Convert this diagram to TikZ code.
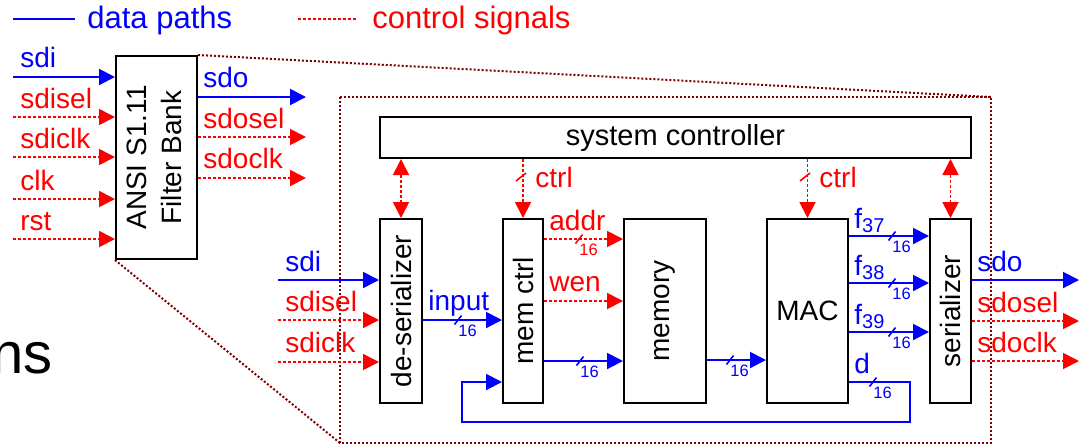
\documentclass[tikz,border=0pt]{standalone}
\usepackage{fontspec}
\setmainfont{Liberation Sans}
\usetikzlibrary{arrows.meta,calc}

\definecolor{dpblue}{RGB}{0,0,255}
\definecolor{csred}{RGB}{255,0,0}
\definecolor{zoomred}{RGB}{128,0,0}

\begin{document}
\begin{tikzpicture}[x=0.5pt,y=-0.5pt,
  block/.style={draw=black, line width=1pt, fill=white, inner sep=0pt,
                font=\fontsize{14}{17.5}\selectfont},
  data/.style={draw=dpblue, line width=1pt, -{Triangle[length=8pt,width=8pt]}},
  datal/.style={draw=dpblue, line width=1pt},
  ctl/.style={draw=csred, line width=0.9pt, dash pattern=on 1.5pt off 1pt,
              -{Triangle[length=8pt,width=8pt]}},
  ctlboth/.style={ctl, {Triangle[length=8pt,width=8pt]}-{Triangle[length=8pt,width=8pt]}},
  ctll/.style={draw=csred, line width=0.9pt, dash pattern=on 1.5pt off 1pt},
  zoomline/.style={draw=zoomred, line width=1pt, dash pattern=on 1pt off 1pt},
  lab/.style={anchor=base west, inner sep=0pt, font=\fontsize{14}{16}\selectfont},
  leg/.style={anchor=base west, inner sep=0pt, font=\fontsize{15.5}{18}\selectfont},
  bus/.pic={
    \draw[line width=0.8pt, solid] (-3.5,4.5) -- (3.5,-4.5);
    \node[anchor=north west, inner sep=0pt, font=\fontsize{8.25}{9}\selectfont] (-w) at (0,5) {16};
  },
  slash/.pic={
    \draw[line width=0.8pt, solid] (-5,4) -- (5,-4);
  }
]
\useasboundingbox (0,0) rectangle (1080,447);
\clip (0,0) rectangle (1080,447);

% legend
\coordinate (leg-d1) at (13,19);
\coordinate (leg-d2) at (75,19);
\coordinate (leg-c1) at (298,19);
\coordinate (leg-c2) at (357,19);
\draw[datal] (leg-d1) -- (leg-d2);
\node[leg, text=dpblue] (leg-dtext) at (87,28) {data paths};
\draw[ctll] (leg-c1) -- (leg-c2);
\node[leg, text=csred] (leg-ctext) at (372,28) {control signals};

% leftover slide text
\node[anchor=base west, inner sep=0pt, font=\fontsize{29}{32}\selectfont] (ns) at (-9,373) {ns};

% expanded view frame and zoom lines
\coordinate (fr-nw) at (340,97);
\coordinate (fr-se) at (991,443);
\draw[zoomline] (fr-nw) rectangle (fr-se);

% top-level filter bank block
\node[block, minimum width=40.5pt, minimum height=101.5pt] (fb) at (156.5,157.5)
  {\rotatebox{90}{\begin{tabular}{@{}c@{}}ANSI S1.11\\Filter Bank\end{tabular}}};

\draw[zoomline] (fb.north east) -- (fr-se |- fr-nw);
\draw[zoomline] (fb.south west) -- (fr-nw |- fr-se);

% filter bank ports
\coordinate (fi-sdi) at (13,77);
\coordinate (fi-sdisel) at (13,117);
\coordinate (fi-sdiclk) at (13,157);
\coordinate (fi-clk) at (13,199);
\coordinate (fi-rst) at (13,239);
\draw[data] (fi-sdi) -- (fi-sdi -| fb.west);
\draw[ctl] (fi-sdisel) -- (fi-sdisel -| fb.west);
\draw[ctl] (fi-sdiclk) -- (fi-sdiclk -| fb.west);
\draw[ctl] (fi-clk) -- (fi-clk -| fb.west);
\draw[ctl] (fi-rst) -- (fi-rst -| fb.west);
\node[lab, text=dpblue] (fl-sdi) at (20,67) {sdi};
\node[lab, text=csred] (fl-sdisel) at (20,108) {sdisel};
\node[lab, text=csred] (fl-sdiclk) at (20,148) {sdiclk};
\node[lab, text=csred] (fl-clk) at (20,190) {clk};
\node[lab, text=csred] (fl-rst) at (20,230) {rst};

\coordinate (fo-sdo) at (306,97);
\coordinate (fo-sdosel) at (306,137);
\coordinate (fo-sdoclk) at (306,178);
\draw[data] (fo-sdo -| fb.east) -- (fo-sdo);
\draw[ctl] (fo-sdosel -| fb.east) -- (fo-sdosel);
\draw[ctl] (fo-sdoclk -| fb.east) -- (fo-sdoclk);
\node[lab, text=dpblue] (fol-sdo) at (203,87) {sdo};
\node[lab, text=csred] (fol-sdosel) at (203,128) {sdosel};
\node[lab, text=csred] (fol-sdoclk) at (203,168) {sdoclk};

% internal blocks
\node[block, minimum width=295.5pt, minimum height=20.5pt, font=\fontsize{14.5}{17}\selectfont]
  (sc) at (675.5,137.5) {system controller};
\node[block, minimum width=21pt, minimum height=92pt] (des) at (401,311) {\rotatebox{90}{de-serializer}};
\node[block, minimum width=20pt, minimum height=92pt] (mc) at (523,311) {\rotatebox{90}{mem ctrl}};
\node[block, minimum width=41pt, minimum height=92pt] (mem) at (665,311) {\rotatebox{90}{memory}};
\node[block, minimum width=40.5pt, minimum height=92pt] (mac) at (807.5,311) {MAC};
\node[block, minimum width=20.5pt, minimum height=92pt] (ser) at (950.5,311) {\rotatebox{90}{serializer}};

% controller links
\draw[ctlboth] (sc.south -| des.north) -- (des.north);
\draw[ctlboth] (sc.south -| ser.north) -- (ser.north);
\draw[ctl] (sc.south -| mc.north) -- (mc.north);
\draw[ctl] (sc.south -| mac.north) -- (mac.north);
\pic[color=csred] at (521,177) {slash};
\pic[color=csred] at (805,177) {slash};
\node[lab, text=csred] (cl-mc) at (535,187) {ctrl};
\node[lab, text=csred] (cl-mac) at (819,187) {ctrl};

% de-serializer inputs
\coordinate (di-sdi) at (278,280);
\coordinate (di-sdisel) at (278,320);
\coordinate (di-sdiclk) at (278,362);
\draw[data] (di-sdi) -- (di-sdi -| des.west);
\draw[ctl] (di-sdisel) -- (di-sdisel -| des.west);
\draw[ctl] (di-sdiclk) -- (di-sdiclk -| des.west);
\node[lab, text=dpblue] (dl-sdi) at (285,271) {sdi};
\node[lab, text=csred] (dl-sdisel) at (285,311) {sdisel};
\node[lab, text=csred] (dl-sdiclk) at (285,352) {sdiclk};

% de-serializer to memory controller
\draw[data] (des.east |- 0,320) -- (mc.west |- 0,320);
\pic[color=dpblue] (b-in) at (458,320) {bus};
\node[lab, text=dpblue] (l-input) at (428,310) {input};

% memory controller to memory
\draw[ctl] (mc.east |- 0,239) -- (mem.west |- 0,239);
\pic[color=csred] (b-addr) at (579,239) {bus};
\node[lab, text=csred] (l-addr) at (549,230) {addr};
\draw[ctl] (mc.east |- 0,301) -- (mem.west |- 0,301);
\node[lab, text=csred] (l-wen) at (549,291) {wen};
\draw[data] (mc.east |- 0,361) -- (mem.west |- 0,361);
\pic[color=dpblue] (b-wdata) at (580,361) {bus};

% memory to MAC
\draw[data] (mem.east |- 0,360) -- (mac.west |- 0,360);
\pic[color=dpblue] (b-rdata) at (730,360) {bus};

% MAC to serializer
\draw[data] (mac.east |- 0,236) -- (ser.west |- 0,236);
\draw[data] (mac.east |- 0,283) -- (ser.west |- 0,283);
\draw[data] (mac.east |- 0,332) -- (ser.west |- 0,332);
\pic[color=dpblue] (b-f37) at (892,236) {bus};
\pic[color=dpblue] (b-f38) at (892,283) {bus};
\pic[color=dpblue] (b-f39) at (892,332) {bus};
\node[lab, text=dpblue] (l-f37) at (854,228) {f\raisebox{-2pt}{\fontsize{10}{10}\selectfont 37}};
\node[lab, text=dpblue] (l-f38) at (854,275) {f\raisebox{-2pt}{\fontsize{10}{10}\selectfont 38}};
\node[lab, text=dpblue] (l-f39) at (854,324) {f\raisebox{-2pt}{\fontsize{10}{10}\selectfont 39}};

% feedback path d back to memory controller
\draw[data] (mac.east |- 0,382) -| (910,422) -| (462,382) -- (mc.west |- 0,382);
\pic[color=dpblue] (b-d) at (873,382) {bus};
\node[lab, text=dpblue] (l-d) at (854,373) {d};

% serializer outputs
\coordinate (so-sdo) at (1079,280);
\coordinate (so-sdosel) at (1079,321);
\coordinate (so-sdoclk) at (1079,361);
\draw[data] (so-sdo -| ser.east) -- (so-sdo);
\draw[ctl] (so-sdosel -| ser.east) -- (so-sdosel);
\draw[ctl] (so-sdoclk -| ser.east) -- (so-sdoclk);
\node[lab, text=dpblue] (sl-sdo) at (977,271) {sdo};
\node[lab, text=csred] (sl-sdosel) at (977,312) {sdosel};
\node[lab, text=csred] (sl-sdoclk) at (977,352) {sdoclk};
\end{tikzpicture}
\end{document}
